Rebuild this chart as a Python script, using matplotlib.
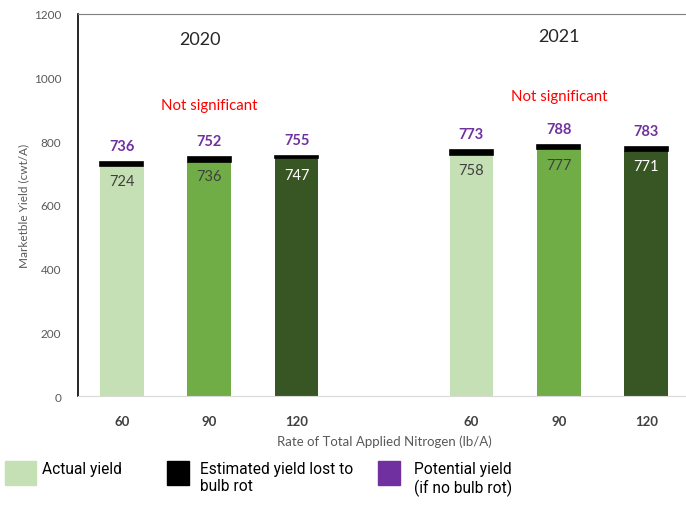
import numpy as np
import matplotlib.pyplot as plt
from matplotlib.patches import Rectangle

# Nitrogen rate trials, two seasons
years = ["2020", "2021"]
rates = ["60", "90", "120"]
actual = [724, 736, 747, 758, 777, 771]
potential = [736, 752, 755, 773, 788, 783]
x_pos = [0, 1, 2, 4, 5, 6]

bar_colors = ["#C5E0B4", "#70AD47", "#375623"] * 2
inner_colors = ["#404040", "#404040", "white"] * 2
lost = [p - a for p, a in zip(potential, actual)]

plt.rcParams['font.family'] = ['Lato', 'DejaVu Sans']

fig = plt.figure(figsize=(6.86, 5.06), dpi=100)
ax = fig.add_axes([78 / 686, 1 - 397 / 506, (690 - 78) / 686, (397 - 15) / 506])

ax.bar(x_pos, actual, width=0.5, color=bar_colors)
ax.bar(x_pos, lost, width=0.49, bottom=actual, color="black",
       edgecolor="black", linewidth=1.2)

for x, a, p, c in zip(x_pos, actual, potential, inner_colors):
    ax.text(x, p + 50, str(p), ha="center", va="center", color="#7030A0",
            fontsize=10.5, fontweight="bold")
    ax.text(x, p - 62, str(a), ha="center", va="center", color=c, fontsize=10.5)

ax.text(1, 915, "Not significant", ha="center", va="center", color="#FF0000", fontsize=10.8)
ax.text(5, 943, "Not significant", ha="center", va="center", color="#FF0000", fontsize=10.8)
ax.text(0.9, 1123, years[0], ha="center", va="center", color="#262626", fontsize=13)
ax.text(5, 1130, years[1], ha="center", va="center", color="#262626", fontsize=13)

ax.set_xlim(-0.5, 6.5)
ax.set_ylim(0, 1200)
ax.set_yticks(np.arange(0, 1201, 200))
ax.set_xticks(x_pos)
ax.set_xticklabels(rates * 2, fontweight="bold", color="#404040", fontsize=9.5)
ax.tick_params(axis="y", colors="#595959", labelsize=8.5, length=0, pad=12)
ax.tick_params(axis="x", length=0, pad=14)

ax.set_xlabel("Rate of Total Applied Nitrogen (lb/A)", color="#595959", fontsize=9.5, labelpad=5)
ax.set_ylabel("Marketble Yield (cwt/A)", color="#595959", fontsize=8.5)
ax.yaxis.set_label_coords(-49 / 612, 0.5)

ax.spines['right'].set_visible(False)
ax.spines['top'].set_color("#7F7F7F")
ax.spines['left'].set_color("black")
ax.spines['left'].set_linewidth(1.2)
ax.spines['bottom'].set_color("#D9D9D9")

# legend row under the chart
W, H = 686, 506
legend_items = [
    (5, 31, "#C5E0B4", 42, "Actual yield"),
    (167, 22, "black", 200, "Estimated yield lost to\nbulb rot"),
    (378, 22, "#7030A0", 414, "Potential yield\n(if no bulb rot)"),
]
for px, pw, col, tx, label in legend_items:
    fig.patches.append(Rectangle((px / W, 1 - 486 / H), pw / W, 24 / H,
                                 transform=fig.transFigure, color=col))
    fig.text(tx / W, 1 - 462 / H, label, ha="left", va="top", fontsize=11.2,
             family="Roboto", linespacing=1.2)

fig.savefig("out.png", dpi=100)
